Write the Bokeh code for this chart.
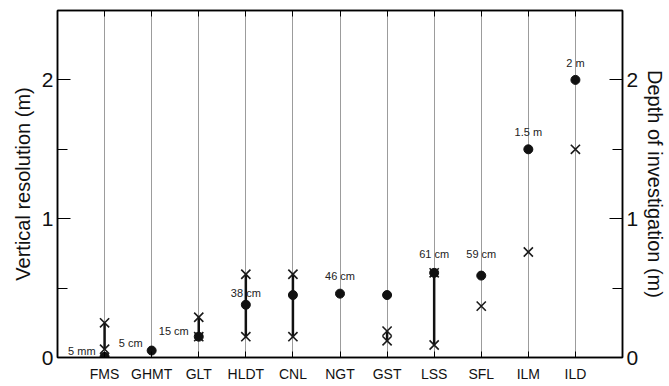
from bokeh.plotting import figure
from bokeh.models import Range1d, LinearAxis, FixedTicker, ColumnDataSource
from bokeh.embed import file_html
from bokeh.resources import INLINE

# ---- data ----
tools = ["FMS", "GHMT", "GLT", "HLDT", "CNL", "NGT", "GST", "LSS", "SFL", "ILM", "ILD"]
resolution = [0.005, 0.05, 0.15, 0.38, 0.45, 0.46, 0.45, 0.61, 0.59, 1.5, 2.0]
res_labels = ["5 mm", "5 cm", "15 cm", "38 cm", "", "46 cm", "", "61 cm", "59 cm", "1.5 m", "2 m"]
depth_tools = ["FMS", "FMS", "GLT", "GLT", "HLDT", "HLDT", "CNL", "CNL",
               "GST", "GST", "LSS", "LSS", "SFL", "ILM", "ILD"]
depth_values = [0.06, 0.25, 0.29, 0.15, 0.60, 0.15, 0.60, 0.15,
                0.19, 0.12, 0.61, 0.09, 0.37, 0.76, 1.50]
y_ticks = [0, 1, 2]
y_minor = [0.5, 1.5]

# ---- label styling (offsets in screen px) ----
lab_align = ["right", "right", "right", "center", "center", "center", "center",
             "center", "center", "center", "center"]
lab_dx = [-9, -9, -10, 0, 0, 0, 0, 0, 0, 0, 0]
lab_dy = [-6, -8, -6, -12, 0, -18, 0, -19, -22, -17, -17]

FONT = "Liberation Sans"
xpos = {t: i + 1 for i, t in enumerate(tools)}
cat_x = [xpos[t] for t in tools]

p = figure(width=669, height=386, output_backend="svg", toolbar_location=None,
           x_range=Range1d(0, len(tools) + 1), y_range=Range1d(0, 2.5),
           min_border_left=57, min_border_right=46, min_border_top=10,
           min_border_bottom=29)
p.outline_line_color = "black"
p.outline_line_width = 1.5
p.background_fill_color = "white"
p.border_fill_color = "white"

# grid: vertical lines at each tool
p.xgrid.ticker = FixedTicker(ticks=cat_x)
p.xgrid.grid_line_color = "#9c9c9c"
p.xgrid.grid_line_width = 1
p.ygrid.grid_line_color = None

# x axis
xa = p.xaxis[0]
xa.ticker = FixedTicker(ticks=cat_x)
xa.major_label_overrides = {xpos[t]: t for t in tools}
xa.major_tick_in = 6
xa.major_tick_out = 0
xa.minor_tick_in = 0
xa.minor_tick_out = 0
xa.axis_line_width = 1.5
xa.major_label_standoff = 8
xa.major_label_text_font = FONT
xa.major_label_text_font_size = "14px"
xa.major_label_text_color = "#111111"

# top axis (tick marks only)
ta = LinearAxis(ticker=FixedTicker(ticks=cat_x),
                major_label_overrides={xpos[t]: "" for t in tools},
                major_tick_in=6, major_tick_out=0, minor_tick_in=0, minor_tick_out=0,
                major_label_standoff=0, axis_line_width=1.5,
                major_label_text_font_size="1px")
p.add_layout(ta, "above")


def style_y(ax, label):
    ax.ticker = FixedTicker(ticks=y_ticks, minor_ticks=y_minor)
    ax.major_tick_in = 13
    ax.major_tick_out = 0
    ax.minor_tick_in = 10
    ax.minor_tick_out = 0
    ax.axis_line_width = 1.5
    ax.major_label_standoff = 4
    ax.major_label_text_font = FONT
    ax.major_label_text_font_size = "21px"
    ax.major_label_text_color = "#111111"
    ax.axis_label = label
    ax.axis_label_text_font = FONT
    ax.axis_label_text_font_size = "20px"
    ax.axis_label_text_font_style = "normal"
    ax.axis_label_text_color = "#111111"
    ax.axis_label_standoff = 5


style_y(p.yaxis[0], "Vertical resolution (m)")
ra = LinearAxis()
style_y(ra, "Depth of investigation (m)")
ra.axis_label_standoff = 3
p.add_layout(ra, "right")

# thick segments joining the depth-of-investigation range
groups = {}
for t, v in zip(depth_tools, depth_values):
    groups.setdefault(t, []).append(v)
seg_x = [xpos[t] for t, vs in groups.items() if len(vs) > 1]
seg_lo = [min(vs) for t, vs in groups.items() if len(vs) > 1]
seg_hi = [max(vs) for t, vs in groups.items() if len(vs) > 1]
p.segment(x0=seg_x, y0=seg_lo, x1=seg_x, y1=seg_hi, line_color="#111111", line_width=2.5)

# depth of investigation crosses
p.scatter(x=[xpos[t] for t in depth_tools], y=depth_values, marker="x", size=13,
          line_color="#1a1a1a", line_width=1.6)

# vertical resolution dots
p.scatter(x=cat_x, y=resolution, marker="circle", size=9,
          fill_color="#111111", line_color="#111111")

# labels
src = ColumnDataSource(dict(x=cat_x, y=resolution, t=res_labels,
                            al=lab_align, dx=lab_dx, dy=lab_dy))
p.text(x="x", y="y", text="t", source=src, text_align="al", text_baseline="middle",
       x_offset="dx", y_offset="dy", text_font_size="11px",
       text_color="#222222", text_font={"value": FONT})

open("out.html", "w").write(file_html(p, INLINE))
